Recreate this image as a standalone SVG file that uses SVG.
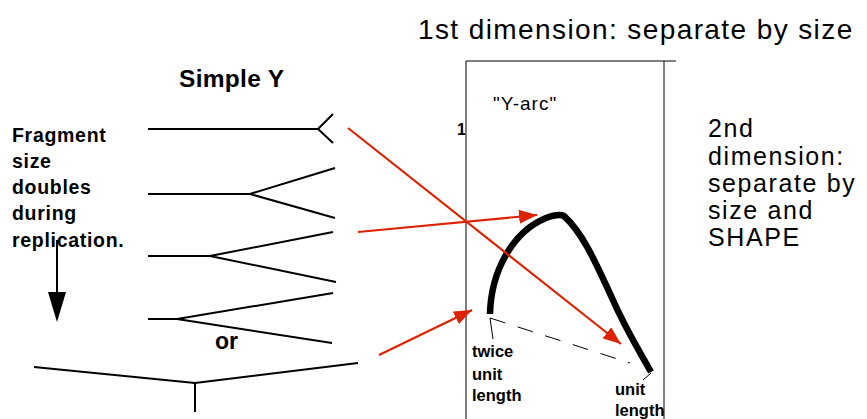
<svg xmlns="http://www.w3.org/2000/svg" width="867" height="419" viewBox="0 0 867 419">
<style>
.ln{fill:none;stroke:#000;stroke-width:2}
.thin{fill:none;stroke:#000;stroke-width:1}
.red{fill:none;stroke:#dd2200;stroke-width:2.2}
.b{font-family:"Liberation Sans",Arial,sans-serif;font-weight:bold;fill:#000}
.r{font-family:"Liberation Sans",Arial,sans-serif;fill:#000}
</style>
<defs>
<marker id="ah" viewBox="0 0 10 10" refX="10" refY="5" markerWidth="18" markerHeight="14" markerUnits="userSpaceOnUse" orient="auto" preserveAspectRatio="none">
<path d="M0,0 L10,5 L0,10 z" fill="#dd2200"/>
</marker>
</defs>
<rect width="867" height="419" fill="#fff"/>

<g id="title-1st">
<text class="r" x="418" y="39" font-size="28" letter-spacing="1.4">1st dimension: separate by size</text>
</g>

<g id="title-simple">
<text class="b" x="179" y="87" font-size="24.5" letter-spacing="0.3">Simple Y</text>
</g>

<g id="fragment-label">
<text class="b" font-size="19.5" letter-spacing="0.7">
<tspan x="12" y="142">Fragment</tspan>
<tspan x="12" y="168">size</tspan>
<tspan x="12" y="194">doubles</tspan>
<tspan x="12" y="220">during</tspan>
<tspan x="12" y="247">replication.</tspan>
</text>
</g>

<g id="down-arrow">
<line class="ln" x1="57" y1="240" x2="57" y2="296"/>
<path d="M48,292 L66,292 L57,322 z" fill="#000"/>
</g>

<g id="y1">
<polyline class="ln" points="148,129 318,129"/>
<polyline class="ln" points="333,114 318,129 333,143"/>
</g>
<g id="y2">
<polyline class="ln" points="148,194 250,194"/>
<polyline class="ln" points="335,168 250,194 335,218"/>
</g>
<g id="y3">
<polyline class="ln" points="148,256 210,256"/>
<polyline class="ln" points="333,232 210,256 336,282"/>
</g>
<g id="y4">
<polyline class="ln" points="148,319 177,319"/>
<polyline class="ln" points="333,293 177,319 332,343"/>
</g>
<g id="or-label">
<text class="b" x="215" y="349" font-size="23">or</text>
</g>
<g id="y-bottom">
<polyline class="ln" points="34,367 195,383 358,363"/>
<line class="ln" x1="195" y1="383" x2="195" y2="412"/>
</g>

<g id="gel-box">
<text class="b" x="457" y="135" font-size="16">1</text>
<rect x="465.5" y="110" width="12" height="30" fill="#fff"/>
<polyline class="thin" points="466,419 466,61 676,61"/>
<line class="thin" x1="664" y1="61" x2="664" y2="419"/>
<text class="r" x="493" y="110" font-size="19" letter-spacing="1">"Y-arc"</text>
</g>

<g id="y-arc">
<path d="M490,314 C491,272 512,232 546,218 C554,215 560,214 564,216 C584,234 598,268 612,298 C626,330 640,352 651,372" fill="none" stroke="#000" stroke-width="6.5" stroke-linecap="butt"/>
<line class="thin" x1="490" y1="318" x2="630" y2="363" stroke-dasharray="16 13"/>
<line class="thin" x1="490" y1="318" x2="493" y2="339"/>
<line class="thin" x1="651" y1="373" x2="643" y2="380"/>
</g>

<g id="twice-label">
<text class="b" font-size="16.5">
<tspan x="472" y="357">twice</tspan>
<tspan x="472" y="380">unit</tspan>
<tspan x="472" y="401">length</tspan>
</text>
</g>
<g id="unit-label">
<text class="b" font-size="16.5">
<tspan x="615" y="395">unit</tspan>
<tspan x="615" y="416">length</tspan>
</text>
<rect x="665" y="400" width="20" height="19" fill="#fff"/>
</g>

<g id="second-dim">
<text class="r" font-size="25" letter-spacing="1.6">
<tspan x="708" y="137">2nd</tspan>
<tspan x="708" y="165">dimension:</tspan>
<tspan x="708" y="192">separate by</tspan>
<tspan x="708" y="219">size and</tspan>
<tspan x="708" y="246">SHAPE</tspan>
</text>
</g>

<g id="connectors">
<line class="red" x1="348" y1="128" x2="621" y2="344" marker-end="url(#ah)"/>
<line class="red" x1="358" y1="232" x2="537" y2="215" marker-end="url(#ah)"/>
<line class="red" x1="379" y1="355" x2="472" y2="310" marker-end="url(#ah)"/>
</g>
</svg>
